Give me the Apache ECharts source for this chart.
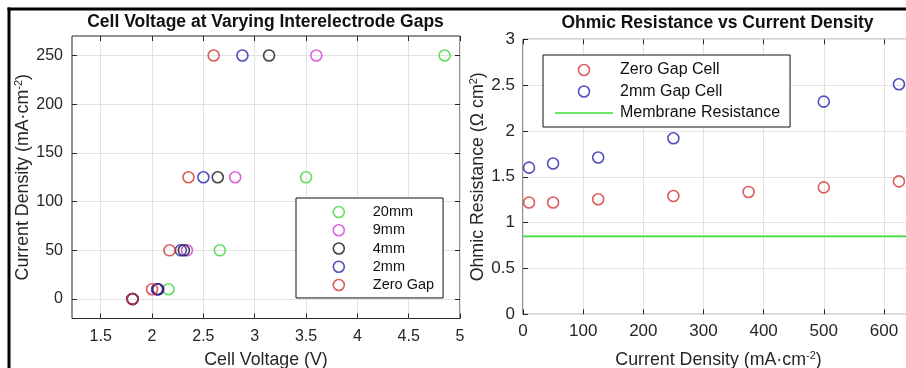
<!DOCTYPE html>
<html><head><meta charset="utf-8">
<script src="https://cdn.jsdelivr.net/npm/echarts@6/dist/echarts.min.js"></script>
<style>html,body{margin:0;padding:0;background:#fff}#c{width:906px;height:368px}</style>
</head><body><div id="c"></div>
<script>
// ---- Left panel data: cell voltage (V) vs current density (mA/cm2)
const gapNames = ['20mm', '9mm', '4mm', '2mm', 'Zero Gap'];
const currentDensity = [0, 10, 50, 125, 250];
const voltage20mm = [1.81, 2.16, 2.66, 3.50, 4.85];
const voltage9mm = [1.81, 2.05, 2.34, 2.81, 3.60];
const voltage4mm = [1.81, 2.06, 2.31, 2.64, 3.14];
const voltage2mm = [1.81, 2.05, 2.28, 2.50, 2.88];
const voltageZeroGap = [1.81, 2.00, 2.17, 2.355, 2.60];
const voltageTicks = [1.5, 2, 2.5, 3, 3.5, 4, 4.5, 5];
const densityTicks = [0, 50, 100, 150, 200, 250];

// ---- Right panel data: ohmic resistance (ohm cm2) vs current density
const resNames = ['Zero Gap Cell', '2mm Gap Cell', 'Membrane Resistance'];
const resZeroGapCurrent = [10, 50, 125, 250, 375, 500, 625];
const resZeroGap = [1.22, 1.22, 1.255, 1.29, 1.335, 1.385, 1.45];
const res2mmCurrent = [10, 50, 125, 250, 500, 625];
const res2mm = [1.60, 1.645, 1.71, 1.92, 2.32, 2.51];
const membraneCurrent = [0, 650];
const membraneRes = [0.85, 0.85];

// ---- styles
const gapColors = ['#3cd83c', '#d63cd6', '#151515', '#2424b0', '#d43434'];
const resColors = ['#d43434', '#2424b0', '#3cdc3c'];
const FONT = "'Liberation Sans', Arial, Helvetica, sans-serif";
const AX = '#262626';
const GRIDC = '#e2e2e2';

const zip = (xs, ys) => xs.map((x, i) => [x, ys[i]]);
const leftSets = [voltage20mm, voltage9mm, voltage4mm, voltage2mm, voltageZeroGap];

const chart = echarts.init(document.getElementById('c'), null, {renderer: 'canvas'});

const tickStyle = {show: true, inside: true, length: 5, lineStyle: {color: AX, width: 1}};
const noLine = {show: false, onZero: false};
const nameRich = {sup: {fontSize: 11, fontFamily: FONT, color: AX, verticalAlign: 'top', padding: [0, 0, 8, 0]}};

function scat(name, data, color, xi, yi) {
  return {
    type: 'scatter', name, data, xAxisIndex: xi, yAxisIndex: yi,
    symbol: 'circle', symbolSize: 11,
    itemStyle: {color: 'rgba(0,0,0,0)', borderColor: color, borderWidth: 1.6},
    emphasis: {disabled: true}, silent: true
  };
}

const series = [];
gapNames.forEach((n, i) => series.push(scat(n, zip(leftSets[i], currentDensity), gapColors[i], 0, 0)));
series.push(scat(resNames[0], zip(resZeroGapCurrent, resZeroGap), resColors[0], 2, 2));
series.push(scat(resNames[1], zip(res2mmCurrent, res2mm), resColors[1], 2, 2));
series.push({
  type: 'line', name: resNames[2], data: zip(membraneCurrent, membraneRes),
  xAxisIndex: 2, yAxisIndex: 2, symbol: 'none', silent: true,
  lineStyle: {color: resColors[2], width: 1.6}, itemStyle: {color: resColors[2]}
});

const circleIcon = (c) => ({icon: 'circle', itemStyle: {color: 'rgba(0,0,0,0)', borderColor: c, borderWidth: 1.6}});

const option = {
  animation: false,
  backgroundColor: '#fff',
  textStyle: {fontFamily: FONT},
  grid: [
    {left: 72, top: 36, width: 388, height: 282.5, outerBoundsMode: 'none', containLabel: false,
     show: true, backgroundColor: '#fff', borderColor: AX, borderWidth: 1},
    {left: 523, top: 39.3, width: 391, height: 275, outerBoundsMode: 'none', containLabel: false,
     show: true, backgroundColor: '#fff', borderColor: AX, borderWidth: 1}
  ],
  xAxis: [
    {type: 'value', gridIndex: 0, min: 1.22, max: 5, position: 'bottom',
     axisLine: noLine, axisTick: Object.assign({}, tickStyle, {customValues: voltageTicks}),
     axisLabel: {customValues: voltageTicks, color: AX, fontSize: 16, margin: 10, fontFamily: FONT},
     splitLine: {show: true, lineStyle: {color: GRIDC, width: 1}},
     name: 'Cell Voltage (V)', nameLocation: 'middle', nameGap: 33,
     nameTextStyle: {fontSize: 17.8, color: AX, fontFamily: FONT}},
    {type: 'value', gridIndex: 0, min: 1.22, max: 5, position: 'top',
     axisLine: noLine, axisTick: Object.assign({}, tickStyle, {customValues: voltageTicks}),
     axisLabel: {show: false}, splitLine: {show: false}},
    {type: 'value', gridIndex: 1, min: 0, max: 650, interval: 100, position: 'bottom',
     axisLine: noLine, axisTick: tickStyle,
     axisLabel: {color: AX, fontSize: 17, margin: 9, fontFamily: FONT, showMaxLabel: false},
     splitLine: {show: true, lineStyle: {color: GRIDC, width: 1}},
     name: 'Current Density (mA·cm{sup|-2})', nameLocation: 'middle', nameGap: 36,
     nameTextStyle: {fontSize: 17.8, color: AX, fontFamily: FONT, rich: nameRich}},
    {type: 'value', gridIndex: 1, min: 0, max: 650, interval: 100, position: 'top',
     axisLine: noLine, axisTick: tickStyle, axisLabel: {show: false}, splitLine: {show: false}}
  ],
  yAxis: [
    {type: 'value', gridIndex: 0, min: -20, max: 270, position: 'left',
     axisLine: noLine, axisTick: Object.assign({}, tickStyle, {customValues: densityTicks}),
     axisLabel: {customValues: densityTicks, color: AX, fontSize: 16, margin: 9, fontFamily: FONT},
     splitLine: {show: true, lineStyle: {color: GRIDC, width: 1}},
     name: 'Current Density (mA·cm{sup|-2})', nameLocation: 'middle', nameGap: 35,
     nameTextStyle: {fontSize: 17.8, color: AX, fontFamily: FONT, rich: nameRich}},
    {type: 'value', gridIndex: 0, min: -20, max: 270, position: 'right',
     axisLine: noLine, axisTick: Object.assign({}, tickStyle, {customValues: densityTicks}),
     axisLabel: {show: false}, splitLine: {show: false}},
    {type: 'value', gridIndex: 1, min: 0, max: 3, interval: 0.5, position: 'left',
     axisLine: noLine, axisTick: tickStyle,
     axisLabel: {color: AX, fontSize: 17, margin: 8, fontFamily: FONT},
     splitLine: {show: true, lineStyle: {color: GRIDC, width: 1}},
     name: 'Ohmic Resistance (Ω cm{sup|2})', nameLocation: 'middle', nameGap: 28,
     nameTextStyle: {fontSize: 17.8, color: AX, fontFamily: FONT, rich: nameRich}}
  ],
  legend: [
    {left: 296, top: 198, orient: 'vertical', itemGap: 0, itemWidth: 58, itemHeight: 11,
     padding: [4.9, 9, 3.8, 36.5], backgroundColor: '#fff', borderColor: '#111', borderWidth: 1,
     selectedMode: false,
     textStyle: {fontSize: 14.5, color: '#111', fontFamily: FONT, lineHeight: 18.25},
     data: gapNames.map((n, i) => Object.assign({name: n}, circleIcon(gapColors[i])))},
    {left: 543, top: 55, orient: 'vertical', itemGap: 0, itemWidth: 58, itemHeight: 11,
     padding: [4.2, 10, 3.3, 12], backgroundColor: '#fff', borderColor: '#111', borderWidth: 1,
     selectedMode: false,
     textStyle: {fontSize: 16, color: '#111', fontFamily: FONT, lineHeight: 21.5, padding: [0, 0, 0, 2]},
     data: [
       Object.assign({name: resNames[0]}, circleIcon(resColors[0])),
       Object.assign({name: resNames[1]}, circleIcon(resColors[1])),
       {name: resNames[2], icon: 'path://M0,0L58,0L58,1.6L0,1.6Z', itemStyle: {color: resColors[2], borderWidth: 0}}
     ]}
  ],
  graphic: [
    {type: 'text', x: 265.5, y: 22, silent: true,
     style: {text: 'Cell Voltage at Varying Interelectrode Gaps', font: 'bold 17.5px ' + FONT, fill: '#111', textAlign: 'center', textVerticalAlign: 'middle'}},
    {type: 'text', x: 717.5, y: 23, silent: true,
     style: {text: 'Ohmic Resistance vs Current Density', font: 'bold 17.5px ' + FONT, fill: '#111', textAlign: 'center', textVerticalAlign: 'middle'}},
    {type: 'line', silent: true, shape: {x1: 7.5, y1: 9, x2: 906, y2: 9}, style: {stroke: '#000', lineWidth: 3}},
    {type: 'line', silent: true, shape: {x1: 9, y1: 7.5, x2: 9, y2: 368}, style: {stroke: '#000', lineWidth: 3}}
  ],
  series
};
chart.setOption(option);
</script>
</body></html>
